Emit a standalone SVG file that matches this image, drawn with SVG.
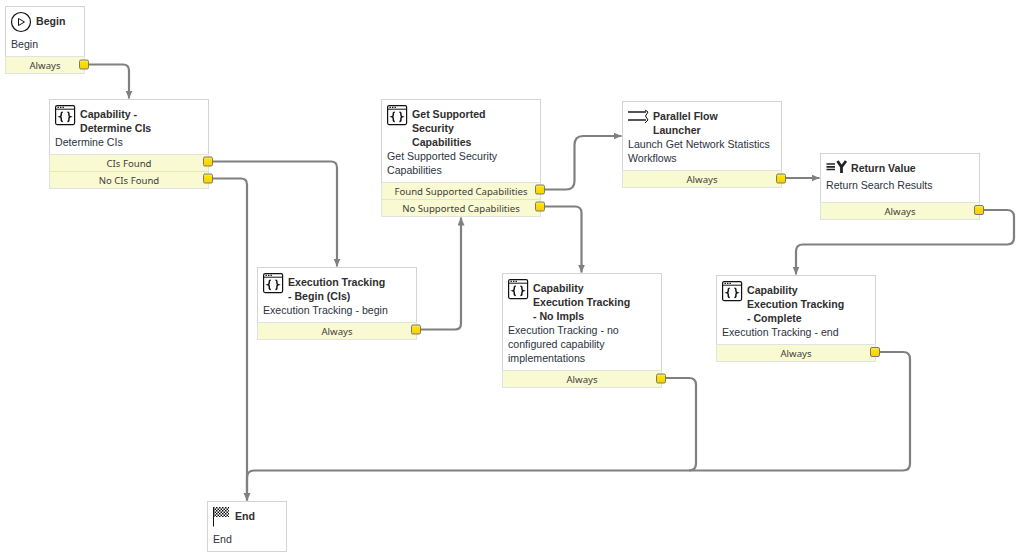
<svg xmlns="http://www.w3.org/2000/svg" width="1019" height="556" viewBox="0 0 1019 556">
<style>
text{font-family:"Liberation Sans",Arial,sans-serif;font-size:10.6px;fill:#333}
.t{font-weight:bold;fill:#2e2e2e}
.d{fill:#2b3340}
.o{text-anchor:middle;fill:#3c3c3c;font-family:"Noto Sans","Liberation Sans",sans-serif;font-size:9.6px}
.b{fill:#fff;stroke:#d4d4d4;stroke-width:1}
.r{fill:#fafad2;stroke:#e2e2e2;stroke-width:1}
.c{fill:none;stroke:#808080;stroke-width:2.2}
.p{fill:url(#pg);stroke:#7a7a6a;stroke-width:1}
.i{fill:none;stroke:#111;stroke-width:1.2}
</style>
<defs>
<linearGradient id="pg" x1="0" y1="0" x2="0" y2="1"><stop offset="0" stop-color="#f8ea90"/><stop offset=".28" stop-color="#ffe000"/><stop offset="1" stop-color="#f7d000"/></linearGradient>
<marker id="a" markerUnits="userSpaceOnUse" markerWidth="9" markerHeight="8" refX="8" refY="3.500" orient="auto"><path d="M0 0L8 3.500L0 7z" fill="#808080"/></marker>
<rect id="port" class="p" x="0" y="0" width="9" height="9" rx="1.500"/>
<g id="code"><rect class="i" x=".6" y=".6" width="19" height="19" rx="1.500"/><path d="M.6 4.200H19.600" stroke="#111" stroke-width="1"/><path d="M2.500 2.400h1.400M5 2.400h1.400M7.500 2.400h1.400" stroke="#111" stroke-width="1.200"/><path d="M7.800 7.200c-1.700 0-1.500 1-1.500 2.600 0 1-.3 1.700-1.300 2 1 .3 1.300 1 1.300 2 0 1.600-.2 2.600 1.500 2.600M12.400 7.200c1.700 0 1.500 1 1.500 2.600 0 1 .3 1.700 1.300 2-1 .3-1.300 1-1.300 2 0 1.600.2 2.600-1.500 2.600" fill="none" stroke="#111" stroke-width="1.500"/></g>
<pattern id="chk" width="3" height="3" patternUnits="userSpaceOnUse"><rect width="3" height="3" fill="#fff"/><rect width="1.500" height="1.500" fill="#111"/><rect x="1.500" y="1.500" width="1.500" height="1.500" fill="#111"/></pattern>
</defs>

<g id="connectors">
<path class="c" d="M89 64.500H123Q129 64.500 129 70.500V98.500" marker-end="url(#a)"/>
<path class="c" d="M213 161.500H331Q337 161.500 337 167.500V266.500" marker-end="url(#a)"/>
<path class="c" d="M213 178.500H241Q247 178.500 247 184.500V500.500" marker-end="url(#a)"/>
<path class="c" d="M421 329.500H455Q461 329.500 461 323.500V217.500" marker-end="url(#a)"/>
<path class="c" d="M545 189.500H566Q574.500 189.500 574.500 181V145Q574.500 136 583 136H621.500" marker-end="url(#a)"/>
<path class="c" d="M545 206.500H575Q581.500 206.500 581.500 213V272.500" marker-end="url(#a)"/>
<path class="c" d="M786 178H819.500" marker-end="url(#a)"/>
<path class="c" d="M984 210H1007Q1014 210 1014 217V238Q1014 244.500 1007 244.500H803Q796 244.500 796 251.500V274.500" marker-end="url(#a)"/>
<path class="c" d="M666 378H689Q696 378 696 385V463.500Q696 470.500 689 470.500"/>
<path class="c" d="M880 352H903Q910 352 910 359V463.500Q910 470.500 903 470.500H254Q247 470.500 247 478V500.500" marker-end="url(#a)"/>
</g>

<g id="begin">
<rect class="b" x="5.500" y="6.500" width="79" height="50"/>
<rect class="r" x="5.500" y="56.500" width="79" height="17"/>
<circle class="i" cx="21" cy="22" r="9.500"/><path d="M18.500 18.500L24.500 22L18.500 25.500z" fill="none" stroke="#111" stroke-width="1"/>
<text class="t" x="36" y="25">Begin</text>
<text class="d" x="11" y="48">Begin</text>
<text class="o" x="45" y="69">Always</text>
<use href="#port" x="79.500" y="60"/>
</g>

<g id="determine-cis">
<rect class="b" x="49.500" y="99.500" width="159" height="55"/>
<rect class="r" x="49.500" y="154.500" width="159" height="17"/>
<rect class="r" x="49.500" y="171.500" width="159" height="17"/>
<use href="#code" x="55" y="105"/>
<text class="t" x="80" y="118">Capability -</text>
<text class="t" x="80" y="132">Determine CIs</text>
<text class="d" x="55" y="146">Determine CIs</text>
<text class="o" x="129" y="167">CIs Found</text>
<text class="o" x="129" y="184">No CIs Found</text>
<use href="#port" x="203.500" y="157"/>
<use href="#port" x="203.500" y="174"/>
</g>

<g id="exec-begin">
<rect class="b" x="257.500" y="267.500" width="159" height="55"/>
<rect class="r" x="257.500" y="322.500" width="159" height="17"/>
<use href="#code" x="263" y="273"/>
<text class="t" x="288" y="286">Execution Tracking</text>
<text class="t" x="288" y="300">- Begin (CIs)</text>
<text class="d" x="263" y="314">Execution Tracking - begin</text>
<text class="o" x="337" y="335">Always</text>
<use href="#port" x="411.500" y="325"/>
</g>

<g id="get-supported">
<rect class="b" x="381.500" y="99.500" width="159" height="83"/>
<rect class="r" x="381.500" y="182.500" width="159" height="17"/>
<rect class="r" x="381.500" y="199.500" width="159" height="17"/>
<use href="#code" x="387" y="105"/>
<text class="t" x="412" y="118">Get Supported</text>
<text class="t" x="412" y="132">Security</text>
<text class="t" x="412" y="146">Capabilities</text>
<text class="d" x="387" y="160">Get Supported Security</text>
<text class="d" x="387" y="174">Capabilities</text>
<text class="o" x="461" y="195">Found Supported Capabilities</text>
<text class="o" x="461" y="212">No Supported Capabilities</text>
<use href="#port" x="535.500" y="185"/>
<use href="#port" x="535.500" y="202"/>
</g>

<g id="parallel">
<rect class="b" x="622.500" y="101.500" width="159" height="69"/>
<rect class="r" x="622.500" y="170.500" width="159" height="17"/>
<path d="M628 112H646M628 120H646" stroke="#555" stroke-width="1.800" fill="none"/>
<path d="M645 110L648 112L645.500 116L648 120L645 123" fill="none" stroke="#111" stroke-width="1"/>
<text class="t" x="653" y="120">Parallel Flow</text>
<text class="t" x="653" y="134">Launcher</text>
<text class="d" x="628" y="148">Launch Get Network Statistics</text>
<text class="d" x="628" y="162">Workflows</text>
<text class="o" x="702" y="183">Always</text>
<use href="#port" x="776.500" y="174"/>
</g>

<g id="return-value">
<rect class="b" x="820.500" y="153.500" width="159" height="49"/>
<rect class="r" x="820.500" y="202.500" width="159" height="17"/>
<path d="M826.500 164H835M826.500 166.800H835M826.500 169.500H835" stroke="#222" stroke-width="1.700"/>
<path d="M837.500 161L841.500 167V173M846 161L841.500 167" fill="none" stroke="#222" stroke-width="2.800"/>
<text class="t" x="851" y="172">Return Value</text>
<text class="d" x="826" y="189">Return Search Results</text>
<text class="o" x="900" y="215">Always</text>
<use href="#port" x="974.500" y="205.500"/>
</g>

<g id="exec-no-impls">
<rect class="b" x="502.500" y="273.500" width="159" height="97"/>
<rect class="r" x="502.500" y="370.500" width="159" height="17"/>
<use href="#code" x="508" y="279"/>
<text class="t" x="533" y="292">Capability</text>
<text class="t" x="533" y="306">Execution Tracking</text>
<text class="t" x="533" y="320">- No Impls</text>
<text class="d" x="508" y="334">Execution Tracking - no</text>
<text class="d" x="508" y="348">configured capability</text>
<text class="d" x="508" y="362">implementations</text>
<text class="o" x="582" y="383">Always</text>
<use href="#port" x="656.500" y="374"/>
</g>

<g id="exec-complete">
<rect class="b" x="716.500" y="275.500" width="159" height="69"/>
<rect class="r" x="716.500" y="344.500" width="159" height="17"/>
<use href="#code" x="722" y="281"/>
<text class="t" x="747" y="294">Capability</text>
<text class="t" x="747" y="308">Execution Tracking</text>
<text class="t" x="747" y="322">- Complete</text>
<text class="d" x="722" y="336">Execution Tracking - end</text>
<text class="o" x="796" y="357">Always</text>
<use href="#port" x="870.500" y="347.500"/>
</g>

<g id="end">
<rect class="b" x="207.500" y="501.500" width="79" height="50"/>
<path d="M213.500 507V526.500" stroke="#111" stroke-width="1"/>
<rect x="214" y="507" width="15" height="10" fill="url(#chk)"/>
<text class="t" x="235" y="520">End</text>
<text class="d" x="213" y="543">End</text>
</g>
</svg>
